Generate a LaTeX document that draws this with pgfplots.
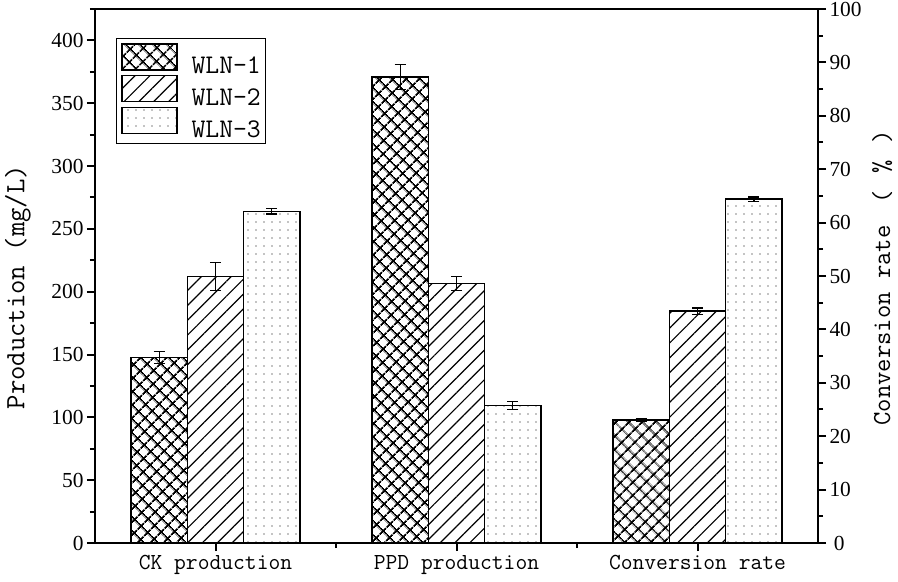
\documentclass[border=0pt]{standalone}
\usepackage{fontspec}
\setmainfont{Liberation Serif}
\usepackage{pgfplots}
\pgfplotsset{compat=1.18}
\usetikzlibrary{patterns.meta}

\pgfplotsset{
  barbase/.style={
    width=723bp, height=534bp, scale only axis,
    at={(0bp,0bp)}, anchor=south west,
    xmin=0.5, xmax=3.5,
    ybar=0pt, bar width=0.234,
    tick align=outside,
    major tick length=8bp, minor tick length=5bp,
    axis line style={line width=2.4bp},
    every tick/.style={line width=2bp, black},
    /pgf/number format/assume math mode=true,
    ticklabel style={font=\fontsize{21.5}{21.5}\selectfont},
    label style={inner sep=0pt},
  },
  eb/.style={
    error bars/y dir=both, error bars/y explicit,
    error bars/error bar style={line width=1.2bp, black},
    error bars/error mark options={rotate=90, line width=1.2bp, mark size=5.5bp, black},
  },
  hatch1/.style={draw=black, line width=1.5bp, pattern={Hatch[angle=45,distance=10bp,line width=2bp]}, eb},
  hatch2/.style={draw=black, line width=1.5bp, pattern={Lines[angle=45,distance=10.5bp,line width=1.2bp]}, eb},
  hatch3/.style={draw=black, line width=1.5bp, pattern={Dots[distance=8bp,radius=0.65bp]}, eb},
}

\begin{document}
\begin{tikzpicture}
\path[use as bounding box] (-95bp,-39bp) rectangle (803bp,543bp);
\begin{axis}[
  barbase,
  ymin=0, ymax=425,
  xtick={1,2,3},
  xticklabels={CK production, PPD production, Conversion rate},
  xticklabel style={font=\ttfamily\fontsize{23}{23}\selectfont, yshift=-1bp},
  minor xtick={1.5,2.5},
  ytick={0,50,...,400}, minor ytick={25,75,...,425},
  xtick pos=bottom, ytick pos=left,
  ylabel={\ttfamily\fontsize{28}{28}\selectfont Production (mg/L)},
  y label style={at={(axis description cs:-0.0885,0.479)}, anchor=south},
  legend style={at={(0.029,0.9457)}, anchor=north west, draw=black, line width=1.2bp,
    font=\ttfamily\fontsize{27}{27}\selectfont, legend cell align=left,
    row sep=0pt, column sep=0pt, inner sep=4.5bp, nodes={inner sep=0pt},
    /tikz/every odd column/.append style={column sep=14bp}},
  legend image code/.code={\draw[#1] (0bp,-4bp) rectangle (55bp,22bp);},
]
\addplot[hatch1] coordinates {(1,147.7) +- (0,5) (2,370.8) +- (0,10)};
\addlegendentry{WLN-1}
\addplot[hatch2] coordinates {(1,212) +- (0,11) (2,206.5) +- (0,5.5)};
\addlegendentry{WLN-2}
\addplot[hatch3] coordinates {(1,264) +- (0,2.2) (2,109.5) +- (0,3)};
\addlegendentry{WLN-3}
\end{axis}

\begin{axis}[
  barbase,
  ymin=0, ymax=100,
  axis y line*=right, hide x axis,
  ytick={0,10,...,100}, minor ytick={5,15,...,95},
  yticklabel style={text width=1.5em, align=right},
  ylabel={\ttfamily\fontsize{26}{26}\selectfont Conversion rate \makebox[30bp]{(}\makebox[30bp]{\%}\makebox[30bp]{)}},
  y label style={at={(axis description cs:1.0747,0.504)}, anchor=north},
]
\addplot[hatch1] coordinates {(3,23.0) +- (0,0.3)};
\addplot[hatch2] coordinates {(3,43.4) +- (0,0.6)};
\addplot[hatch3] coordinates {(3,64.4) +- (0,0.4)};
\end{axis}
\end{tikzpicture}
\end{document}
